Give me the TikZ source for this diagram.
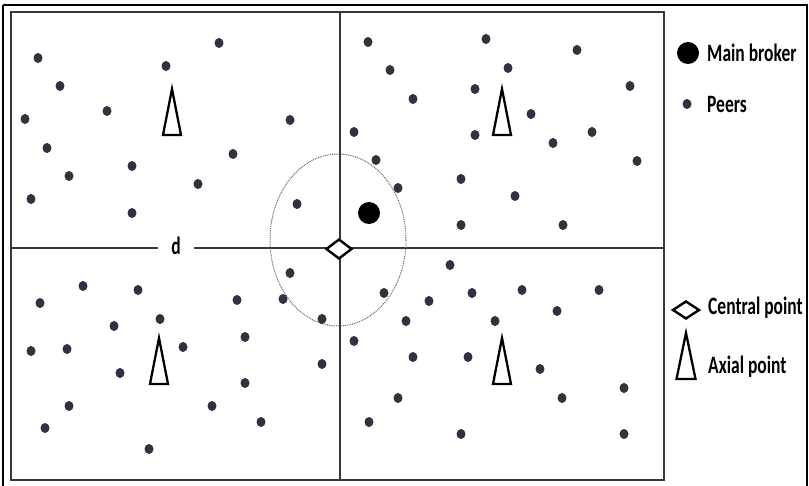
\documentclass[tikz,border=0pt]{standalone}
\usepackage{fontspec}
\usetikzlibrary{shapes.geometric}
\newfontfamily\legendfont[FakeStretch=0.7]{Carlito}
\definecolor{peergray}{RGB}{45,52,64}
\definecolor{linegray}{RGB}{55,55,55}
\tikzset{
  peer/.style={ellipse, fill=peergray, inner sep=0pt, minimum width=9pt, minimum height=10pt},
  broker/.style={circle, fill=black, inner sep=0pt, minimum size=22pt},
  central/.style={diamond, draw=black, fill=white, line width=2.4pt, inner sep=0pt,
    minimum width=26pt, minimum height=20pt},
  axial/.style={draw=black, fill=white, line width=2.3pt, line join=miter},
  legend/.style={anchor=west, inner sep=0pt, text=black,
    font=\legendfont\bfseries\fontsize{25}{25}\selectfont},
  region/.style={draw=linegray, line width=1.5pt},
  axis/.style={draw=linegray, line width=1.2pt},
  reach/.style={draw=black!60, line width=1pt, dash pattern=on 0.9pt off 0.9pt}
}

\begin{document}
\begin{tikzpicture}[x=1pt, y=-1pt]
  \useasboundingbox (0,0) rectangle (809,486);

  % outer frame
  \draw[line width=2.4pt] (3,487) -- (3,5);
  \draw[line width=1.3pt] (3,5) -- (807,5) -- (807,487);

  % area and quadrants
  \draw[region] (11,12) rectangle (664,480);
  \coordinate (hl) at (11,248);
  \coordinate (hr) at (664,248);
  \coordinate (vt) at (340,12);
  \coordinate (vb) at (340,480);
  \node[font=\legendfont\bfseries\fontsize{25}{25}\selectfont, inner xsep=13pt, inner ysep=0pt]
    (d) at (176,246) {d};
  \draw[axis] (hl) -- (d.west |- hl);
  \draw[axis] (d.east |- hr) -- (hr);
  \draw[axis] (vt) -- (vb);

  % broker reach
  \draw[reach] (338,240) ellipse [x radius=68, y radius=86];

  % peers
  \foreach \x/\y [count=\i] in {
    38/58, 60/86, 25/119, 47/148, 69/176, 31/199, 107/111, 132/166, 132/213,
    166/66, 219/43, 198/184, 233/154, 290/120, 297/204,
    368/42, 390/70, 354/132, 376/160, 398/188,
    486/39, 508/68, 475/89, 413/99, 531/114, 475/135, 553/143, 577/50,
    592/132, 630/86, 637/161, 461/179, 515/196, 461/225, 563/225,
    40/303, 83/286, 138/290, 114/326, 160/319, 31/351, 67/349, 120/373,
    183/347, 69/406, 45/428, 149/449, 237/300, 245/337, 245/383, 212/406,
    261/422, 290/273, 283/299, 322/319, 322/364,
    354/341, 369/422, 384/293, 398/398,
    450/265, 429/301, 472/293, 522/290, 599/290, 557/311, 406/321, 495/321,
    413/357, 468/357, 540/369, 624/388, 562/398, 461/434, 624/434}
    \node[peer] (p\i) at (\x,\y) {};

  % main broker and central point
  \node[broker] (mb) at (369,213) {};
  \node[central] (cp) at (339,249) {};

  % axial points
  \coordinate (ax1) at (172,89);
  \coordinate (ax2) at (502,89);
  \coordinate (ax3) at (159,338);
  \coordinate (ax4) at (502,338);
  \foreach \a in {ax1,ax2,ax3,ax4}
    \draw[axial] (\a) -- ++(-9,46) -- ++(18,0) -- cycle;

  % legend
  \node[broker] (lmb) at (688,53) {};
  \node[legend] (tmb) at (707,53) {Main broker};
  \node[peer] (lp) at (687,104) {};
  \node[legend] (tp) at (707,104) {Peers};
  \node[central, minimum width=27pt, minimum height=18pt] (lcp) at (686,310) {};
  \node[legend] (tcp) at (708,308) {Central point};
  \coordinate (lax) at (686,333);
  \draw[axial] (lax) -- ++(-9.5,46) -- ++(19,0) -- cycle;
  \node[legend] (tax) at (708,367) {Axial point};
\end{tikzpicture}
\end{document}
